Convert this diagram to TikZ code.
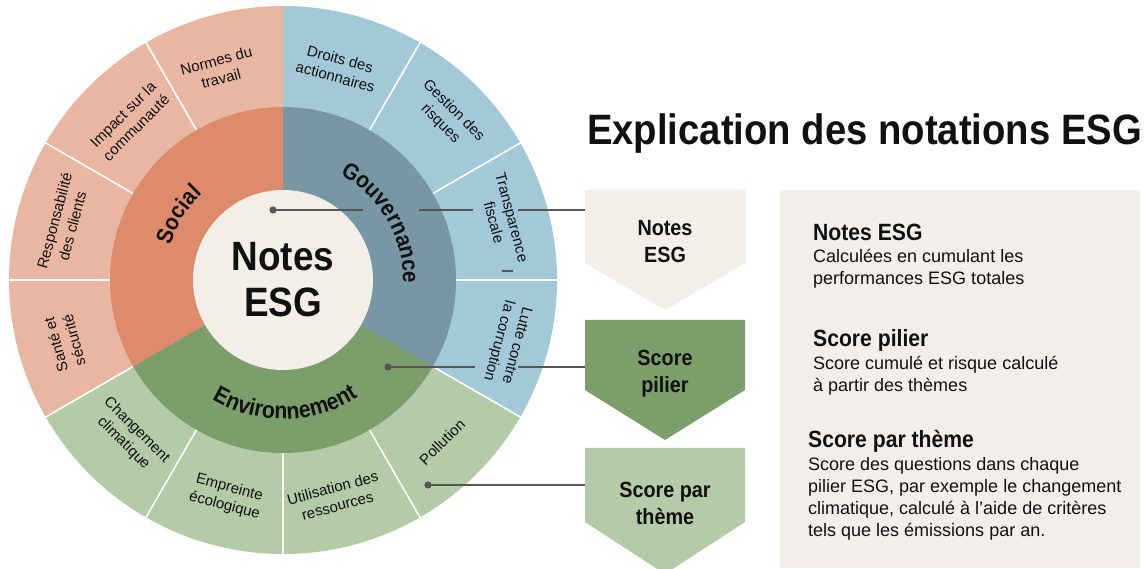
\documentclass[tikz,border=0pt]{standalone}
\usepackage{fontspec}
\setmainfont{Liberation Sans}[BoldFeatures={FakeStretch=0.9}]
\newfontfamily\spacedsans{Liberation Sans}[LetterSpace=10, BoldFeatures={FakeStretch=0.9}]
\usetikzlibrary{decorations.text}

\definecolor{socOut}{HTML}{E9B6A1}
\definecolor{socMid}{HTML}{DD8B6B}
\definecolor{govOut}{HTML}{A3C9D9}
\definecolor{govMid}{HTML}{7797A4}
\definecolor{envOut}{HTML}{B3CBA7}
\definecolor{envMid}{HTML}{7B9E6A}
\definecolor{coreFill}{HTML}{F2EFE9}
\definecolor{panelFill}{HTML}{F2EFEA}
\definecolor{lineGray}{HTML}{565656}
\definecolor{ink}{HTML}{111111}

\newcommand\setfs[2]{\fontsize{#1}{#2}\selectfont}

\begin{document}
\begin{tikzpicture}[x=1pt,y=1pt,
  outerlabel/.style={align=center, font=\setfs{15}{18.5}, inner sep=0pt, text=ink},
  boxlabel/.style={align=center, font=\bfseries\setfs{22}{27}, inner sep=0pt, text=ink},
  heading/.style={anchor=base west, font=\bfseries\setfs{23.5}{27}, inner sep=0pt, text=ink},
  bodytext/.style={anchor=base west, font=\setfs{18}{22}, inner sep=0pt, text=ink},
  conn/.style={draw=lineGray, line width=1.6pt},
  divider/.style={draw=white, line width=1.6pt},
  ringname/.style={decorate, decoration={text along path, text align=center,
      text color=ink}}
]
\useasboundingbox (0,0) rectangle (1144,568);
\fill[white] (0,0) rectangle (1144,568);

% ---------------- the wheel ----------------
\begin{scope}[shift={(283,288)}]
  % outer ring, one colour per pillar
  \fill[govOut] (0,0) -- (-30:274) arc[start angle=-30, end angle=90, radius=274] -- cycle;
  \fill[socOut] (0,0) -- (90:274) arc[start angle=90, end angle=210, radius=274] -- cycle;
  \fill[envOut] (0,0) -- (210:274) arc[start angle=210, end angle=330, radius=274] -- cycle;
  % theme separators
  \foreach \a in {0,30,60,120,150,180,210,240,270,300,330}
    \draw[divider] (\a:173) -- (\a:275);
  % pillar ring
  \fill[govMid] (0,0) -- (-30:173) arc[start angle=-30, end angle=90, radius=173] -- cycle;
  \fill[socMid] (0,0) -- (90:173) arc[start angle=90, end angle=210, radius=173] -- cycle;
  \fill[envMid] (0,0) -- (210:173) arc[start angle=210, end angle=330, radius=173] -- cycle;
  % core
  \fill[coreFill] (0,0) circle[radius=90];
  \node[align=center, font=\bfseries\setfs{41}{46}, inner sep=0pt, text=ink] (core) at (0,0) {Notes\\ESG};

  % pillar names along the ring
  \path[ringname, decoration={text={|\bfseries\setfs{23}{23}|Social}}]
    (198:118) arc[start angle=198, end angle=98, radius=118];
  \path[ringname, decoration={text={|\bfseries\setfs{23}{23}|Gouvernance}}]
    (82:120) arc[start angle=82, end angle=-22, radius=120];
  \path[ringname, decoration={text={|\spacedsans\bfseries\setfs{23.5}{23.5}|Environnement}}]
    (-150:139) arc[start angle=-150, end angle=-28, radius=139];

  % theme labels
  \node[outerlabel, rotate=15]  (tNormes)  at (107:220)   {Normes du\\travail};
  \node[outerlabel, rotate=45]  (tImpact)  at (134:221)   {Impact sur la\\communauté};
  \node[outerlabel, rotate=75]  (tClients) at (165.5:227) {Responsabilité\\des clients};
  \node[outerlabel, rotate=105] (tSante)   at (196:227)   {Santé et\\sécurité};
  \node[outerlabel, rotate=-45] (tClimat)  at (225.7:219) {Changement\\climatique};
  \node[outerlabel, rotate=-15] (tEmpr)    at (255.5:224) {Empreinte\\écologique};
  \node[outerlabel, rotate=15]  (tRess)    at (283.5:223) {Utilisation des\\ressources};
  \node[outerlabel, rotate=45]  (tPoll)    at (314.5:227) {Pollution};
  \node[outerlabel, rotate=255] (tCorr)    at (344.3:233) {Lutte contre\\la corruption};
  \node[outerlabel, rotate=-75] (tFisc)    at (15.3:228)  {Transparence\\fiscale};
  \node[outerlabel, rotate=-45] (tRisq)    at (44.8:231)  {Gestion des\\risques};
  \node[outerlabel, rotate=-15] (tDroits)  at (75.5:219)  {Droits des\\actionnaires};
\end{scope}

% ---------------- level arrows ----------------
\fill[coreFill] (585,378) -- (745,378) -- (745,305) -- (665,258) -- (585,305) -- cycle;
\fill[envMid]   (585,248) -- (745,248) -- (745,178) -- (665,128) -- (585,178) -- cycle;
\fill[envOut]   (585,120) -- (745,120) -- (745,46)  -- (665,-6)  -- (585,46)  -- cycle;
\node[boxlabel] (boxNotes)  at (665,326)   {Notes\\ESG};
\node[boxlabel] (boxPilier) at (665,194)   {Score\\pilier};
\node[boxlabel] (boxTheme)  at (665,64.5)  {Score par\\thème};

% ---------------- connectors ----------------
\coordinate (d1) at (273,358);
\coordinate (g1a) at (363,358);  \coordinate (g1b) at (419,358);
\coordinate (g2a) at (473,358);  \coordinate (g2b) at (518,358);
\coordinate (in1) at (585,358);
\draw[conn] (d1) -- (g1a) (g1b) -- (g2a) (g2b) -- (in1);
\fill[lineGray] (d1) circle[radius=3.6];

\coordinate (d2) at (388,201);
\coordinate (g3a) at (475,201);  \coordinate (g3b) at (518,201);
\coordinate (in2) at (585,201);
\draw[conn] (d2) -- (g3a) (g3b) -- (in2);
\fill[lineGray] (d2) circle[radius=3.6];

\coordinate (d3) at (428,83);
\coordinate (in3) at (585,83);
\draw[conn] (d3) -- (in3);
\fill[lineGray] (d3) circle[radius=3.6];

\coordinate (s1) at (502,297);
\coordinate (s2) at (513,297);
\draw[conn] (s1) -- (s2);

% ---------------- title and explanations ----------------
\node[anchor=base west, font=\bfseries\setfs{42.5}{46}, inner sep=0pt, text=ink] (title)
  at (587,423) {Explication des notations ESG};

\fill[panelFill] (780,0) rectangle (1140,378);

\node[heading] (hNotes) at (813,327) {Notes ESG};
\node[bodytext] (pNotes) at (813,305)
  {\begin{tabular}[t]{@{}l@{}}Calculées en cumulant les\\performances ESG totales\end{tabular}};

\node[heading] (hPilier) at (813,221) {Score pilier};
\node[bodytext] (pPilier) at (813,198)
  {\begin{tabular}[t]{@{}l@{}}Score cumulé et risque calculé\\à partir des thèmes\end{tabular}};

\node[heading] (hTheme) at (808,120) {Score par thème};
\node[bodytext] (pTheme) at (808,97)
  {\begin{tabular}[t]{@{}l@{}}Score des questions dans chaque\\pilier ESG, par exemple le changement\\climatique, calculé à l'aide de critères\\tels que les émissions par an.\end{tabular}};
\end{tikzpicture}
\end{document}
